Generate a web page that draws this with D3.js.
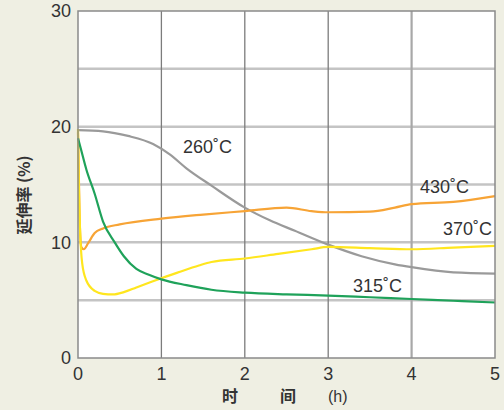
<!DOCTYPE html>
<html>
<head>
<meta charset="utf-8">
<script src="https://cdn.jsdelivr.net/npm/d3@7"></script>
<style>
  body { margin: 0; background: #efefe3; }
  svg { display: block; font-family: "Liberation Sans", Arial, sans-serif; }
</style>
</head>
<body>
<svg id="chart" width="504" height="410"></svg>
<script>
// elongation (%) vs time (h) at each temperature
const xTicks = [0, 1, 2, 3, 4, 5];
const yTicks = [0, 10, 20, 30];
const yGrid = [5, 10, 15, 20, 25];

const series260 = [[0, 19.7], [0.3, 19.6], [0.6, 19.2], [0.9, 18.5], [1.1, 17.6], [1.3, 16.4], [1.6, 14.9], [2, 13.0], [2.3, 11.9], [2.6, 11.0], [3, 9.8], [3.4, 8.8], [3.8, 8.1], [4, 7.85], [4.5, 7.4], [5, 7.3]];
const series430 = [[0, 19.5], [0.02, 12], [0.04, 9.6], [0.07, 9.4], [0.12, 9.9], [0.2, 10.8], [0.3, 11.2], [0.5, 11.55], [1, 12.05], [1.5, 12.4], [2, 12.7], [2.5, 13.0], [2.8, 12.7], [3, 12.6], [3.5, 12.65], [3.8, 13.0], [4, 13.3], [4.5, 13.5], [5, 14.0]];
const series370 = [[0, 19.8], [0.01, 15], [0.025, 11], [0.05, 8.2], [0.1, 6.7], [0.2, 5.8], [0.3, 5.55], [0.42, 5.5], [0.55, 5.7], [0.7, 6.1], [0.85, 6.5], [1, 6.9], [1.2, 7.4], [1.45, 8.0], [1.6, 8.3], [2, 8.6], [2.4, 9.0], [2.8, 9.4], [3, 9.6], [3.5, 9.5], [4, 9.4], [4.5, 9.55], [5, 9.7]];
const series315 = [[0, 19.0], [0.03, 18.2], [0.1, 16.3], [0.2, 14.2], [0.3, 11.8], [0.44, 10], [0.55, 8.8], [0.7, 7.7], [0.85, 7.2], [1, 6.8], [1.3, 6.3], [1.6, 5.9], [2, 5.65], [2.5, 5.5], [3, 5.4], [3.5, 5.25], [4, 5.1], [4.5, 4.95], [5, 4.8]];

const curves = [
    { name: '260˚C', data: series260, color: '#9a9a9a', lx: 183, ly: 153 },
    { name: '430˚C', data: series430, color: '#f7a436', lx: 420, ly: 193 },
    { name: '370˚C', data: series370, color: '#ffe61e', lx: 443, ly: 235 },
    { name: '315˚C', data: series315, color: '#1fa25a', lx: 353, ly: 292 }
];

const svg = d3.select('#chart');
const plotLeft = 78, plotRight = 495, plotTop = 11, plotBottom = 358;

const x = d3.scaleLinear().domain([0, 5]).range([plotLeft, plotRight]);
const y = d3.scaleLinear().domain([0, 30]).range([plotBottom, plotTop]);

svg.append('rect')
    .attr('x', plotLeft).attr('y', plotTop)
    .attr('width', plotRight - plotLeft).attr('height', plotBottom - plotTop)
    .attr('fill', '#fff');

// grid
svg.append('g').selectAll('line')
    .data(yGrid)
    .join('line')
    .attr('x1', plotLeft).attr('x2', plotRight)
    .attr('y1', d => y(d)).attr('y2', d => y(d))
    .attr('stroke', '#c4c4c4')
    .attr('stroke-width', 2.5);

svg.append('g').selectAll('line')
    .data([1, 2, 3, 4])
    .join('line')
    .attr('x1', d => x(d)).attr('x2', d => x(d))
    .attr('y1', plotTop).attr('y2', plotBottom)
    .attr('stroke', d => d === 4 ? '#a8a8a8' : '#7c7c7c')
    .attr('stroke-width', d => d === 4 ? 2.2 : 1.3);

// curves
const line = d3.line()
    .x(d => x(d[0]))
    .y(d => y(d[1]))
    .curve(d3.curveMonotoneX);

svg.append('g').selectAll('path')
    .data(curves)
    .join('path')
    .attr('d', d => line(d.data))
    .attr('fill', 'none')
    .attr('stroke', d => d.color)
    .attr('stroke-width', 2.2);

// frame
svg.append('rect')
    .attr('x', plotLeft).attr('y', plotTop)
    .attr('width', plotRight - plotLeft).attr('height', plotBottom - plotTop)
    .attr('fill', 'none')
    .attr('stroke', '#8a8a8a')
    .attr('stroke-width', 1.5);

// curve labels
svg.append('g').selectAll('text')
    .data(curves)
    .join('text')
    .attr('x', d => d.lx)
    .attr('y', d => d.ly)
    .attr('font-size', 18)
    .attr('fill', '#333')
    .text(d => d.name);

// axes labels
svg.append('g').selectAll('text')
    .data(yTicks)
    .join('text')
    .attr('x', 71)
    .attr('y', d => y(d))
    .attr('dy', '0.36em')
    .attr('text-anchor', 'end')
    .attr('font-size', 18)
    .attr('fill', '#333')
    .text(d => d);

svg.append('g').selectAll('text')
    .data(xTicks)
    .join('text')
    .attr('x', d => x(d))
    .attr('y', 380)
    .attr('text-anchor', 'middle')
    .attr('font-size', 18)
    .attr('fill', '#333')
    .text(d => d);

const xTitle = svg.append('text')
    .attr('y', 402)
    .attr('font-size', 16)
    .attr('font-weight', 'bold')
    .attr('fill', '#333')
    .attr('font-family', '"Noto Sans CJK SC", sans-serif');
xTitle.append('tspan').attr('x', 222).text('时');
xTitle.append('tspan').attr('x', 280).text('间');
xTitle.append('tspan').attr('x', 328).attr('font-family', '"Liberation Sans", Arial, sans-serif').attr('font-weight', 'normal').text('(h)');

svg.append('text')
    .attr('transform', 'translate(30,195) rotate(-90)')
    .attr('text-anchor', 'middle')
    .attr('font-size', 16)
    .attr('font-weight', 'bold')
    .attr('fill', '#333')
    .attr('font-family', '"Noto Sans CJK SC", sans-serif')
    .text('延伸率 (%)');
</script>
</body>
</html>
